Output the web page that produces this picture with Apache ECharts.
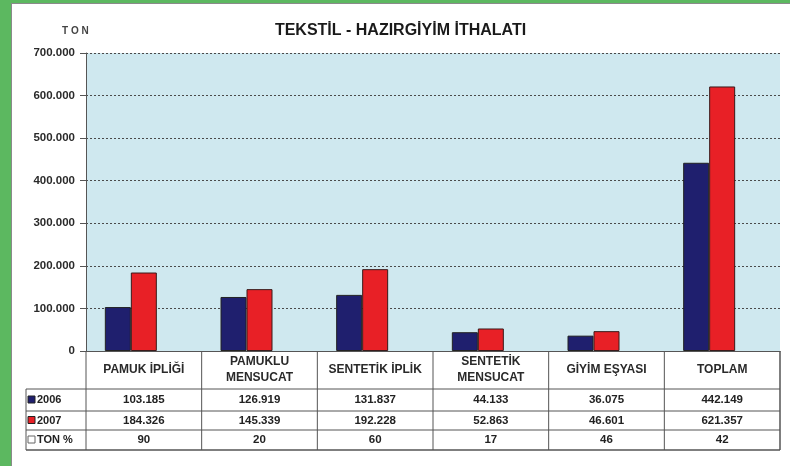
<!DOCTYPE html>
<html>
<head>
<meta charset="utf-8">
<script src="https://cdn.jsdelivr.net/npm/echarts@6/dist/echarts.min.js"></script>
<style>
html, body { margin: 0; padding: 0; background: #5cb860; }
#main { position: absolute; left: 11px; top: 3px; width: 779px; height: 463px; background: #fff; box-shadow: inset 1px 1px 0 #8a8a8a; }
</style>
</head>
<body>
<div id="main"></div>
<script>
const categories = ['PAMUK İPLİĞİ', 'PAMUKLU\nMENSUCAT', 'SENTETİK İPLİK', 'SENTETİK\nMENSUCAT', 'GİYİM EŞYASI', 'TOPLAM']
const values2006 = [103185, 126919, 131837, 44133, 36075, 442149]
const values2007 = [184326, 145339, 192228, 52863, 46601, 621357]
const tonPercent = [90, 20, 60, 17, 46, 42]
const seriesNames = ['2006', '2007', 'TON %']
const seriesColors = ['#1f1f6e', '#e82026', '#ffffff']

const font = 'Arial, "Liberation Sans", sans-serif'

// 103185 -> 103.185
function dots(v) {
  return String(v).replace(/\B(?=(\d{3})+(?!\d))/g, '.')
}

let myChart = echarts.init(document.getElementById('main'))

myChart.setOption({
  animation: false,
  grid: {
    left: 75,
    right: 10,
    top: 50,
    bottom: 115,
    show: true,
    backgroundColor: '#cfe8ef',
    borderWidth: 0
  },
  xAxis: {
    type: 'category',
    data: categories,
    axisLine: { lineStyle: { color: '#555', width: 1 } },
    axisTick: { show: false },
    axisLabel: {
      interval: 0,
      margin: 19,
      verticalAlign: 'middle',
      lineHeight: 16,
      fontFamily: font,
      fontWeight: 'bold',
      fontSize: 12,
      color: '#2a2a2a'
    }
  },
  yAxis: {
    type: 'value',
    min: 0,
    max: 700000,
    interval: 100000,
    axisLine: { show: true, lineStyle: { color: '#555' } },
    axisTick: { show: true, length: 6, lineStyle: { color: '#555' } },
    axisLabel: {
      margin: 11,
      fontFamily: font,
      fontWeight: 'bold',
      fontSize: 11.5,
      color: '#2a2a2a',
      formatter: v => dots(v)
    },
    splitLine: {
      lineStyle: { color: '#4a4a4a', type: [2, 2], width: 1 }
    }
  },
  series: [
    {
      name: seriesNames[0],
      type: 'bar',
      data: values2006,
      barWidth: 26,
      barGap: '0%',
      itemStyle: { color: seriesColors[0], borderColor: '#222', borderWidth: 1 }
    },
    {
      name: seriesNames[1],
      type: 'bar',
      data: values2007,
      barWidth: 26,
      barGap: '0%',
      itemStyle: { color: seriesColors[1], borderColor: '#3a1a1a', borderWidth: 1 }
    },
    {
      name: seriesNames[2],
      type: 'bar',
      data: tonPercent,
      barWidth: 26,
      barGap: '0%',
      itemStyle: { color: seriesColors[2], borderWidth: 0 }
    }
  ]
})

// data table under the chart
let centers = categories.map((c, i) => myChart.convertToPixel({ xAxisIndex: 0 }, i))
let band = centers[1] - centers[0]
let colEdges = [centers[0] - band / 2].concat(centers.map(c => c + band / 2))
let tableLeft = 15
let tableRight = colEdges[colEdges.length - 1]
let axisY = 348
let rowEdges = [386, 408, 427, 447]
let rows = [values2006, values2007, tonPercent]
let lineColor = '#555'

let graphics = [
  {
    type: 'text',
    left: 'center',
    top: 20,
    style: { text: 'TEKSTİL - HAZIRGİYİM İTHALATI', font: 'bold 16px ' + font, fill: '#1a1a1a' }
  },
  {
    type: 'text',
    x: 51,
    y: 23,
    style: { text: 'T O N', font: 'bold 10px ' + font, fill: '#444' }
  }
]

rowEdges.forEach((y, k) => {
  graphics.push({
    type: 'line',
    shape: { x1: tableLeft, y1: y, x2: tableRight, y2: y },
    style: { stroke: lineColor, lineWidth: k === rowEdges.length - 1 ? 1.5 : 1 }
  })
})
graphics.push({
  type: 'line',
  shape: { x1: tableLeft, y1: rowEdges[0], x2: tableLeft, y2: rowEdges[3] },
  style: { stroke: lineColor, lineWidth: 1 }
})
colEdges.forEach((x, k) => {
  graphics.push({
    type: 'line',
    shape: { x1: x, y1: axisY, x2: x, y2: rowEdges[3] },
    style: { stroke: lineColor, lineWidth: k === colEdges.length - 1 ? 1.5 : 1 }
  })
})

rows.forEach((vals, r) => {
  let yMid = (rowEdges[r] + rowEdges[r + 1]) / 2
  graphics.push({
    type: 'rect',
    shape: { x: 17, y: yMid - 4, width: 7, height: 7 },
    style: { fill: seriesColors[r], stroke: r === 2 ? '#666' : '#222', lineWidth: 1 }
  })
  graphics.push({
    type: 'text',
    x: 26,
    y: yMid,
    style: { text: seriesNames[r], font: 'bold 11px ' + font, fill: '#222', verticalAlign: 'middle' }
  })
  vals.forEach((v, i) => {
    graphics.push({
      type: 'text',
      x: centers[i],
      y: yMid,
      style: { text: dots(v), font: 'bold 11.5px ' + font, fill: '#222', align: 'center', verticalAlign: 'middle' }
    })
  })
})

myChart.setOption({ graphic: graphics })
</script>
</body>
</html>
